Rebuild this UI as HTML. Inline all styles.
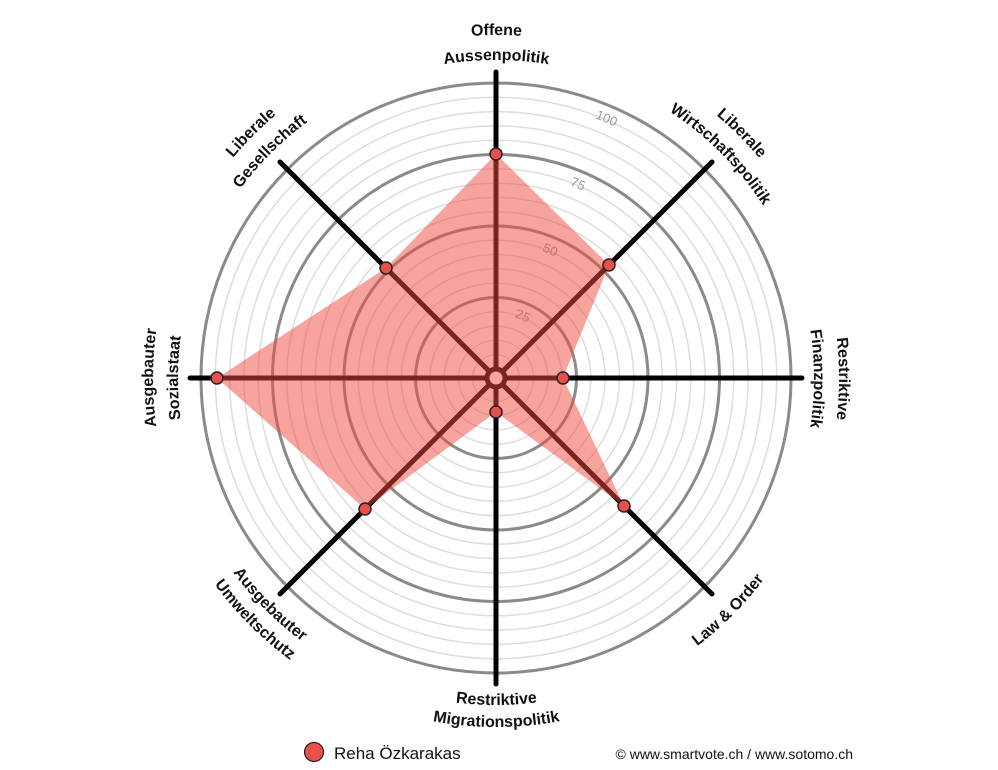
<!DOCTYPE html>
<html><head><meta charset="utf-8"><style>
html,body{margin:0;padding:0;background:#fff;}
svg{display:block;font-family:"Liberation Sans",Arial,sans-serif;}
.lb{font-weight:bold;font-size:16px;fill:#111;}
.tk{font-size:13px;fill:#999;}
</style></head><body>
<svg width="998" height="770" viewBox="0 0 998 770" xmlns="http://www.w3.org/2000/svg">
<defs>
<path id="cw343" d="M496,721 A343,343 0 1 1 496,35 A343,343 0 1 1 496,721"/>
<path id="cw318" d="M496,696 A318,318 0 1 1 496,60 A318,318 0 1 1 496,696"/>
<path id="cc327" d="M496,51 A327,327 0 1 0 496,705 A327,327 0 1 0 496,51"/>
<path id="cc349" d="M496,29 A349,349 0 1 0 496,727 A349,349 0 1 0 496,29"/>
<path id="cc335" d="M496,43 A335,335 0 1 0 496,713 A335,335 0 1 0 496,43"/>
<path id="t100" d="M496,656 A278,278 0 1 1 496,100 A278,278 0 1 1 496,656"/>
<path id="t75" d="M496,584.5 A206.5,206.5 0 1 1 496,171.5 A206.5,206.5 0 1 1 496,584.5"/>
<path id="t50" d="M496,513 A135,135 0 1 1 496,243 A135,135 0 1 1 496,513"/>
<path id="t25" d="M496,441.5 A63.5,63.5 0 1 1 496,314.5 A63.5,63.5 0 1 1 496,441.5"/>
</defs>
<g fill="none" stroke="#ddd" stroke-width="1.5">
<circle cx="496" cy="378" r="23.3"/><circle cx="496" cy="378" r="37.6"/><circle cx="496" cy="378" r="51.9"/><circle cx="496" cy="378" r="66.2"/>
<circle cx="496" cy="378" r="94.8"/><circle cx="496" cy="378" r="109.1"/><circle cx="496" cy="378" r="123.4"/><circle cx="496" cy="378" r="137.7"/>
<circle cx="496" cy="378" r="166.3"/><circle cx="496" cy="378" r="180.6"/><circle cx="496" cy="378" r="194.9"/><circle cx="496" cy="378" r="209.2"/>
<circle cx="496" cy="378" r="237.8"/><circle cx="496" cy="378" r="252.1"/><circle cx="496" cy="378" r="266.4"/><circle cx="496" cy="378" r="280.7"/>
</g>
<g fill="none" stroke="#8a8a8a" stroke-width="3">
<circle cx="496" cy="378" r="80.5"/><circle cx="496" cy="378" r="152"/><circle cx="496" cy="378" r="223.5"/><circle cx="496" cy="378" r="295"/>
</g>
<g class="tk" text-anchor="middle">
<text><textPath href="#t100" startOffset="985">100</textPath></text>
<text><textPath href="#t75" startOffset="731">75</textPath></text>
<text><textPath href="#t50" startOffset="478">50</textPath></text>
<text><textPath href="#t25" startOffset="225">25</textPath></text>
</g>
<g stroke="#000" stroke-width="5" stroke-linecap="round">
<line x1="496" y1="378" x2="496" y2="72"/>
<line x1="496" y1="378" x2="712" y2="162"/>
<line x1="496" y1="378" x2="802" y2="378"/>
<line x1="496" y1="378" x2="712" y2="594"/>
<line x1="496" y1="378" x2="496" y2="684"/>
<line x1="496" y1="378" x2="280" y2="594"/>
<line x1="496" y1="378" x2="190" y2="378"/>
<line x1="496" y1="378" x2="280" y2="162"/>
</g>
<circle cx="496" cy="378" r="9" fill="#fff" stroke="#000" stroke-width="5"/>
<polygon points="496,154 609,265 563,378 624,506 496,412 365,509 217,378 386,268" fill="#ef4a40" fill-opacity="0.5"/>
<g fill="#e8514b" stroke="#222" stroke-width="1.5">
<circle cx="496" cy="154" r="6"/><circle cx="609" cy="265" r="6"/><circle cx="563" cy="378" r="6"/><circle cx="624" cy="506" r="6"/>
<circle cx="496" cy="412" r="6"/><circle cx="365" cy="509" r="6"/><circle cx="217" cy="378" r="6"/><circle cx="386" cy="268" r="6"/>
</g>
<g class="lb" text-anchor="middle">
<text><textPath href="#cw343" startOffset="1077.6">Offene</textPath></text>
<text><textPath href="#cw318" startOffset="999">Aussenpolitik</textPath></text>
<text><textPath href="#cw343" startOffset="1347">Liberale</textPath></text>
<text><textPath href="#cw318" startOffset="1248.8">Wirtschaftspolitik</textPath></text>
<text><textPath href="#cw343" startOffset="1616.4">Restriktive</textPath></text>
<text><textPath href="#cw318" startOffset="1498.6">Finanzpolitik</textPath></text>
<text><textPath href="#cw343" startOffset="538.8">Ausgebauter</textPath></text>
<text><textPath href="#cw318" startOffset="499.5">Sozialstaat</textPath></text>
<text><textPath href="#cw343" startOffset="808.2">Liberale</textPath></text>
<text><textPath href="#cw318" startOffset="749.3">Gesellschaft</textPath></text>
<text><textPath href="#cc327" startOffset="1027.3">Restriktive</textPath></text>
<text><textPath href="#cc349" startOffset="1096.4">Migrationspolitik</textPath></text>
<text><textPath href="#cc327" startOffset="770.5">Ausgebauter</textPath></text>
<text><textPath href="#cc349" startOffset="822.3">Umweltschutz</textPath></text>
<text><textPath href="#cc335" startOffset="1315.4">Law &amp; Order</textPath></text>
</g>
<circle cx="314" cy="752" r="9.5" fill="#e8514b" stroke="#222" stroke-width="1.2"/>
<text x="334" y="759" font-size="17" fill="#111">Reha Özkarakas</text>
<text x="853" y="759" font-size="14" fill="#111" text-anchor="end">© www.smartvote.ch / www.sotomo.ch</text>
</svg>
</body></html>
